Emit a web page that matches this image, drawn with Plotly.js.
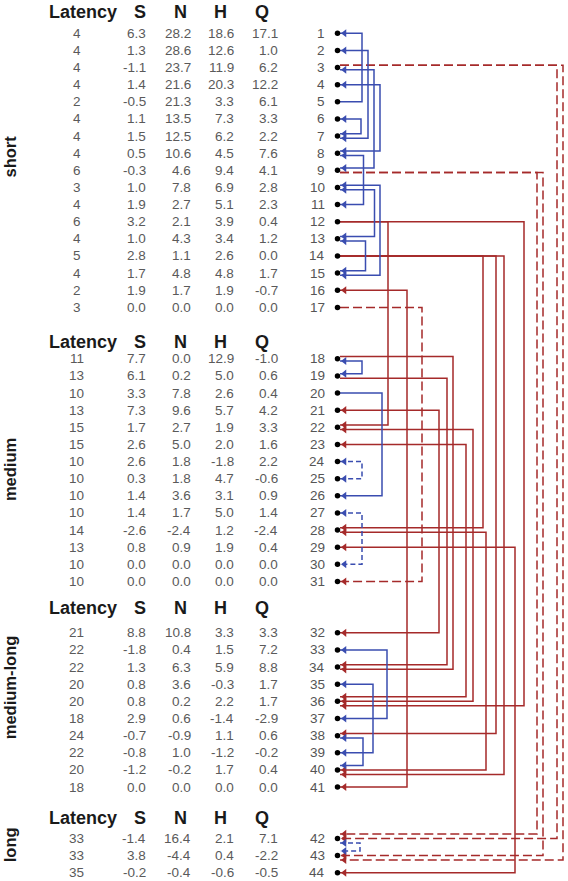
<!DOCTYPE html>
<html>
<head>
<meta charset="utf-8">
<script src="https://cdn.plot.ly/plotly-3.0.1.min.js"></script>
<style>html,body{margin:0;padding:0;background:#fff;}#chart{width:568px;height:881px;}</style>
</head>
<body>
<div id="chart"></div>
<script>
// ---------------- DATA ----------------
const groupNames = ['short', 'medium', 'medium-long', 'long'];
const groupSizes = [17, 14, 10, 3];
const columns = ['Latency', 'S', 'N', 'H', 'Q'];

const latency = [4,4,4,4,2,4,4,4,6,3,4,6,4,5,4,2,3,
                 11,13,10,13,15,15,10,10,10,10,14,13,10,10,
                 21,22,22,20,20,18,24,22,20,18,
                 33,33,35];
const S = [6.3,1.3,-1.1,1.4,-0.5,1.1,1.5,0.5,-0.3,1.0,1.9,3.2,1.0,2.8,1.7,1.9,0.0,
           7.7,6.1,3.3,7.3,1.7,2.6,2.6,0.3,1.4,1.4,-2.6,0.8,0.0,0.0,
           8.8,-1.8,1.3,0.8,0.8,2.9,-0.7,-0.8,-1.2,0.0,
           -1.4,3.8,-0.2];
const N = [28.2,28.6,23.7,21.6,21.3,13.5,12.5,10.6,4.6,7.8,2.7,2.1,4.3,1.1,4.8,1.7,0.0,
           0.0,0.2,7.8,9.6,2.7,5.0,1.8,1.8,3.6,1.7,-2.4,0.9,0.0,0.0,
           10.8,0.4,6.3,3.6,0.2,0.6,-0.9,1.0,-0.2,0.0,
           16.4,-4.4,-0.4];
const H = [18.6,12.6,11.9,20.3,3.3,7.3,6.2,4.5,9.4,6.9,5.1,3.9,3.4,2.6,4.8,1.9,0.0,
           12.9,5.0,2.6,5.7,1.9,2.0,-1.8,4.7,3.1,5.0,1.2,1.9,0.0,0.0,
           3.3,1.5,5.9,-0.3,2.2,-1.4,1.1,-1.2,1.7,0.0,
           2.1,0.4,-0.6];
const Q = [17.1,1.0,6.2,12.2,6.1,3.3,2.2,7.6,4.1,2.8,2.3,0.4,1.2,0.0,1.7,-0.7,0.0,
           -1.0,0.6,0.4,4.2,3.3,1.6,2.2,-0.6,0.9,1.4,-2.4,0.4,0.0,0.0,
           3.3,7.2,8.8,1.7,1.7,-2.9,0.6,-0.2,0.4,0.0,
           7.1,-2.2,-0.5];

// links between numbered items (a above b); kind: bs=blue solid, bd=blue dashed, rs=red solid, rd=red dashed
const linkA     = [1,6,2,3,10,4,8,10,13,18,20,33,35,38, 24,27,42, 12,12,14,14,14,16,18,19,21,22,23,28,29, 17,3,3,9,9];
const linkB     = [5,7,7,9,13,8,11,15,15,19,26,37,39,40, 25,30,43, 22,36,28,38,40,41,34,34,32,36,36,40,44, 31,42,43,42,43];
const linkKind  = ['bs','bs','bs','bs','bs','bs','bs','bs','bs','bs','bs','bs','bs','bs',
                   'bd','bd','bd',
                   'rs','rs','rs','rs','rs','rs','rs','rs','rs','rs','rs','rs','rs',
                   'rd','rd','rd','rd','rd'];
const arrowAtA  = [1,1,1,1,1,1,1,1,1,1,0,1,1,1, 1,1,1, 0,0,0,0,0,1,0,0,1,1,1,1,1, 0,0,0,0,0];
const arrowAtB  = [0,1,1,1,1,1,1,1,1,1,1,1,1,1, 1,1,1, 1,1,1,1,1,1,1,1,1,1,1,1,1, 1,1,1,1,1];

// ---------------- LAYOUT (positions/styles) ----------------
const W = 568, Hh = 881;
const ROW_PX = 17.13, TOP_PX = 33.3;
const laneX = [362,361,368,374,374.5,380,363.5,380,365.5,362,382,387,373,363,
               362,362,360,
               388,524,483,496,504,407,453,447,439,473,466,486,515,
               422,557,563,537,543];
const headerOffset = [1.22, 1.0, 1.45, 1.2];
const labelShift = [-0.2, 0.5, -0.6, 0.0];
const colHeaderX = [82.5, 140, 180, 220, 262];
const colValueX = [76.5, 148, 192.5, 236, 279.5];
const NUM_X = 327, DOT_X = 337.5, LINE_X0 = 340, ARROW_X = 344.5;
const SLOT = 4.5 / ROW_PX;
const styles = {
  bs: {color: '#3a4db0', dash: 'solid'},
  bd: {color: '#3a4db0', dash: '5px,3px'},
  rs: {color: '#a52a2a', dash: 'solid'},
  rd: {color: '#a52a2a', dash: '9px,4px'}
};
const FONT = 'Liberation Sans, Arial, sans-serif';

const groupStart = [];
{ let s = 1; for (const g of groupSizes) { groupStart.push(s); s += g; } }
const nTotal = groupSizes.reduce((a, b) => a + b, 0);
function groupOf(n) { let g = 0; for (let i = 0; i < groupStart.length; i++) if (n >= groupStart[i]) g = i; return g; }
function rowPos(n) { return (n - 1) + 2 * groupOf(n); }

// ---- endpoint slots ----
const slots = {};
for (let n = 1; n <= nTotal; n++) slots[n] = [];
const endSlot = [];
for (let i = 0; i < linkA.length; i++) {
  const ends = [[linkA[i], arrowAtA[i], linkB[i]], [linkB[i], arrowAtB[i], linkA[i]]];
  const res = [];
  for (const [node, arr, other] of ends) {
    const up = rowPos(other) < rowPos(node);
    let slot = null;
    if (!arr) slot = slots[node].find(s => !s.arrow && s.kind === linkKind[i]);
    if (!slot) { slot = {arrow: !!arr, kind: linkKind[i], up: up, lane: laneX[i]}; slots[node].push(slot); }
    else slot.lane = Math.max(slot.lane, laneX[i]);
    res.push(slot);
  }
  endSlot.push(res);
}
for (let n = 1; n <= nTotal; n++) {
  const list = slots[n];
  const ups = list.filter(s => s.up).sort((a, b) => a.lane - b.lane);
  const downs = list.filter(s => !s.up).sort((a, b) => b.lane - a.lane);
  const ordered = ups.concat(downs);
  const m = ordered.length;
  ordered.forEach((s, k) => { s.y = rowPos(n) + (k - (m - 1) / 2) * SLOT; });
}

// ---- traces ----
const traces = [];
for (const kind of ['rd', 'rs', 'bd', 'bs']) {
  const xs = [], ys = [];
  for (let i = 0; i < linkA.length; i++) {
    if (linkKind[i] !== kind) continue;
    const ya = endSlot[i][0].y, yb = endSlot[i][1].y;
    xs.push(LINE_X0, laneX[i], laneX[i], LINE_X0, null);
    ys.push(ya, ya, yb, yb, null);
  }
  traces.push({type: 'scatter', mode: 'lines', x: xs, y: ys, hoverinfo: 'skip',
    line: {color: styles[kind].color, width: 1.5, dash: styles[kind].dash}});
}
for (const color of ['#a52a2a', '#3a4db0']) {
  const xs = [], ys = [];
  for (let n = 1; n <= nTotal; n++) {
    for (const s of slots[n]) {
      if (s.arrow && styles[s.kind].color === color) { xs.push(ARROW_X); ys.push(s.y); }
    }
  }
  traces.push({type: 'scatter', mode: 'markers', x: xs, y: ys, hoverinfo: 'skip',
    marker: {symbol: 'triangle-left', size: 7, color: color, line: {width: 0}}});
}
{
  const xs = [], ys = [];
  for (let n = 1; n <= nTotal; n++) { xs.push(DOT_X); ys.push(rowPos(n)); }
  traces.push({type: 'scatter', mode: 'markers', x: xs, y: ys, hoverinfo: 'skip',
    marker: {symbol: 'circle', size: 5.5, color: '#000'}});
}

// ---- text annotations ----
const ann = [];
const valueCols = [latency, S, N, H, Q];
for (let n = 1; n <= nTotal; n++) {
  const y = rowPos(n);
  ann.push({x: NUM_X, y: y, text: String(n), xanchor: 'right', yanchor: 'middle',
    font: {family: FONT, size: 13.5, color: '#555'}});
  valueCols.forEach((arr, c) => {
    const v = arr[n - 1];
    const txt = c === 0 ? String(v) : v.toFixed(1);
    ann.push({x: colValueX[c], y: y, text: txt, xanchor: c === 0 ? 'center' : 'right', yanchor: 'middle',
      font: {family: FONT, size: 13.5, color: '#5a5a5a'}});
  });
}
groupNames.forEach((g, gi) => {
  const first = groupStart[gi], last = first + groupSizes[gi] - 1;
  const hy = rowPos(first) - headerOffset[gi];
  columns.forEach((c, ci) => {
    ann.push({x: colHeaderX[ci], y: hy, text: '<b>' + c + '</b>', xanchor: 'center', yanchor: 'middle',
      font: {family: FONT, size: 18, color: '#1a1a1a'}});
  });
  ann.push({x: 10, y: (hy + rowPos(last)) / 2 + labelShift[gi], text: '<b>' + g + '</b>', textangle: -90,
    xanchor: 'center', yanchor: 'middle', font: {family: FONT, size: 16.5, color: '#1a1a1a'}});
});
ann.forEach(a => { a.xref = 'x'; a.yref = 'y'; a.showarrow = false; });

const layout = {
  width: W, height: Hh,
  margin: {l: 0, r: 0, t: 0, b: 0, pad: 0},
  paper_bgcolor: '#fff', plot_bgcolor: '#fff',
  showlegend: false,
  xaxis: {range: [0, W], visible: false, fixedrange: true},
  yaxis: {range: [(Hh - TOP_PX) / ROW_PX, -TOP_PX / ROW_PX], visible: false, fixedrange: true},
  annotations: ann
};
Plotly.newPlot('chart', traces, layout, {staticPlot: true, displayModeBar: false});
</script>
</body>
</html>
